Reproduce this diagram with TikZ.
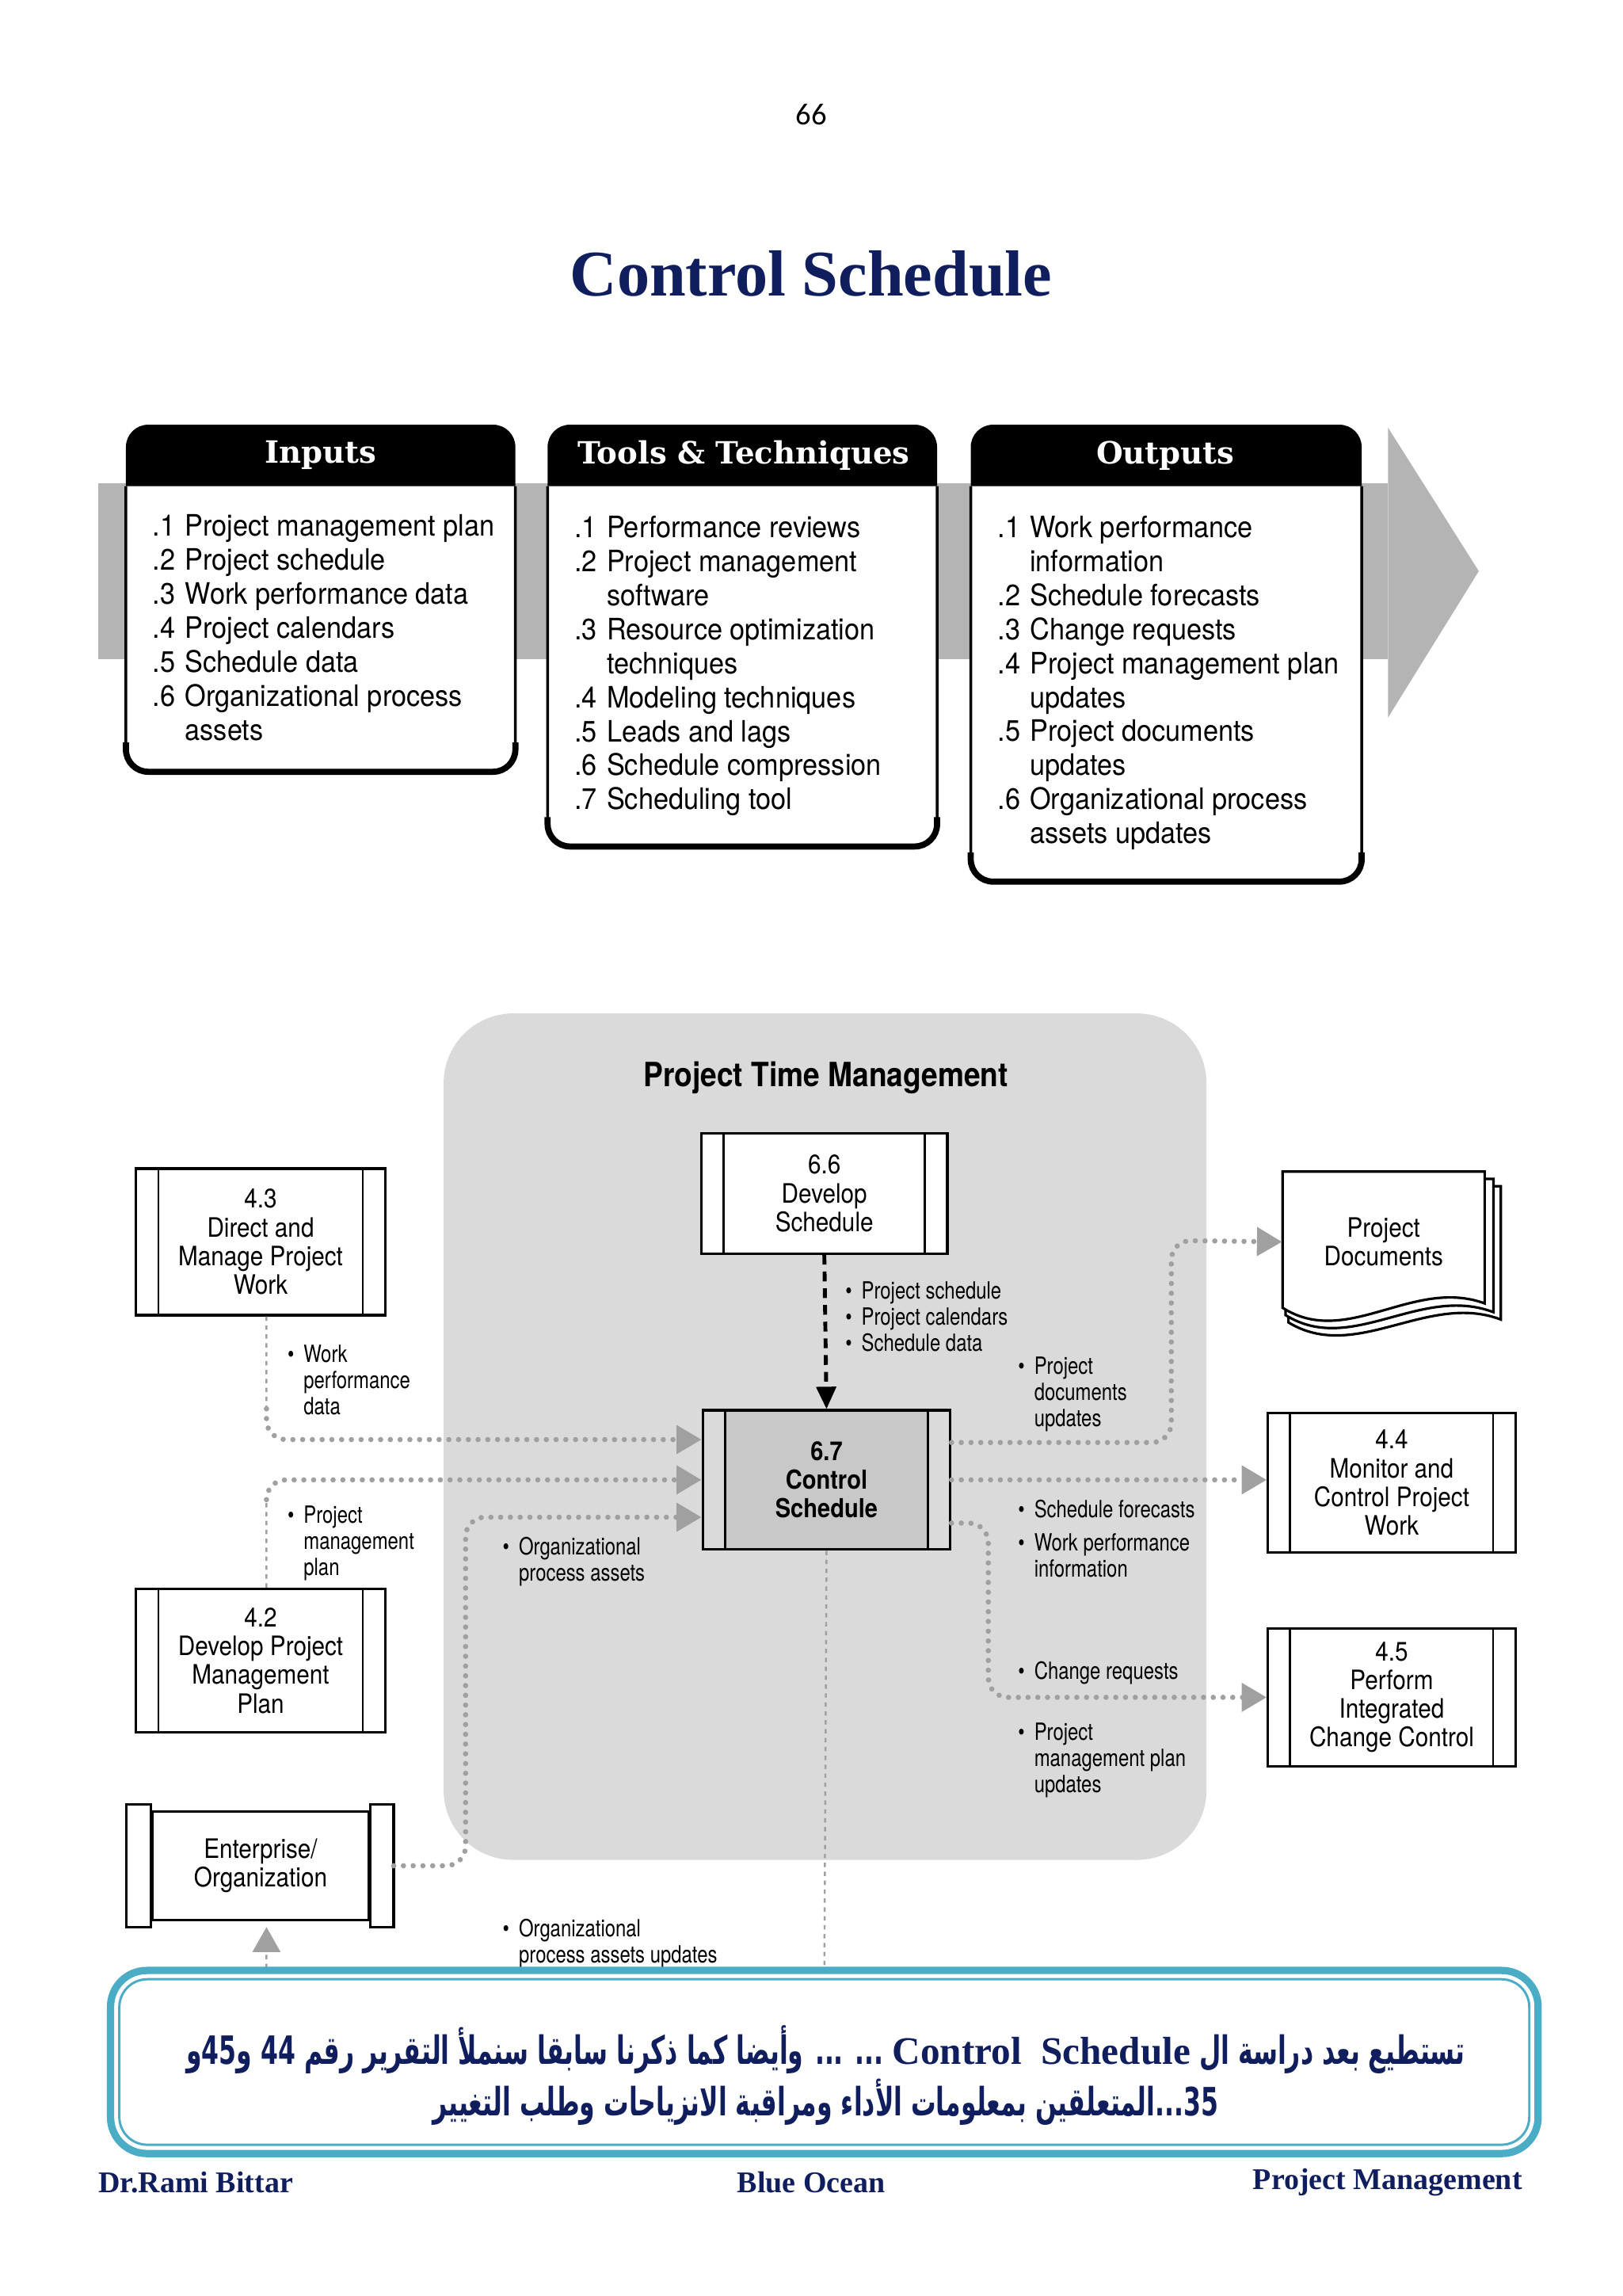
\documentclass[tikz,border=0pt]{standalone}
\usepackage{fontspec}
\usetikzlibrary{arrows.meta,calc}
\TeXXeTstate=1
\setmainfont{TeX Gyre Heros}
\newfontfamily\hvt[FakeStretch=0.92]{TeX Gyre Heros}
\newfontfamily\hvc[FakeStretch=0.88]{TeX Gyre Heros}
\newfontfamily\hvl[FakeStretch=0.80]{TeX Gyre Heros}
\newfontfamily\tms{Liberation Serif}
\newfontfamily\slab{DejaVu Serif}
\newfontfamily\calib{Carlito}
\newfontfamily\arabicfont[Script=Arabic,FakeStretch=0.64]{DejaVu Sans}
\def\dU{0.52589pt}
\newcommand{\nm}[1]{\makebox[11.6pt][l]{#1}}
\newcommand{\bu}{\makebox[5.8pt][l]{\textbullet}}
\newcommand{\ind}{\hspace*{5.8pt}}
\definecolor{navy}{RGB}{16,30,94}
\definecolor{band}{RGB}{180,180,180}
\definecolor{region}{RGB}{218,218,218}
\definecolor{boxsix}{RGB}{200,200,200}
\definecolor{dotc}{RGB}{160,160,160}
\definecolor{tealb}{RGB}{75,172,198}
\begin{document}
\begin{tikzpicture}[x=0.0184838cm, y=-0.0184838cm,
  innerlines/.style={path picture={
    \draw[line width=0.8pt] ([xshift=8pt]path picture bounding box.north west) -- ([xshift=8pt]path picture bounding box.south west);
    \draw[line width=0.8pt] ([xshift=-8pt]path picture bounding box.north east) -- ([xshift=-8pt]path picture bounding box.south east);}},
  proc/.style={draw=black, line width=0.9pt, fill=white, align=center, inner sep=0pt,
    minimum width=169*\dU, font=\hvc\fontsize{9.6}{10.3}\selectfont, innerlines},
  hdr/.style={text=white, font=\slab\bfseries\fontsize{11}{13}\selectfont, inner sep=0pt},
  lst/.style={anchor=north west, align=left, inner sep=0pt, font=\hvt\fontsize{10.6}{12.2}\selectfont},
  lbl/.style={anchor=north west, align=left, inner sep=0pt, font=\hvl\fontsize{8.5}{9.4}\selectfont},
  dots/.style={draw=dotc, line width=1.9pt, line cap=round, dash pattern=on 0pt off 3.5pt, rounded corners=7pt},
  thind/.style={draw=dotc, line width=0.7pt, dash pattern=on 1.6pt off 1.6pt},
  garr/.style={-{Triangle[length=9pt,width=10pt,color=dotc]}},
  foot/.style={font=\tms\bfseries\fontsize{10.8}{13}\selectfont, text=navy, inner sep=0pt}
]
\useasboundingbox (0,0) rectangle (1108,1567.8);

% page number and title
\node[font=\calib\fontsize{11}{13}\selectfont, inner sep=0pt] (pg) at (554,78) {66};
\node[font=\tms\bfseries\fontsize{23.4}{28}\selectfont, text=navy, inner sep=0pt] (title) at (554,187) {Control Schedule};

% ===== ITTO band =====
\fill[band] (67,330) rectangle (948,450);
\fill[band] (948,292) -- (1010,390) -- (948,490) -- cycle;

\newcommand{\ittobox}[5]{%
  \fill[black, rounded corners=8pt] (#1,#3) rectangle (#2,#4+14);
  \draw[line width=1pt, fill=white, rounded corners=8pt] (#1,#4) -- (#1,#5) -- (#2,#5) -- (#2,#4);
  \draw[line width=2.2pt, rounded corners=8pt] (#1,#5-20) -- (#1,#5) -- (#2,#5) -- (#2,#5-20);
}
\ittobox{86}{352}{290}{332}{527}
\ittobox{374}{640}{290}{332}{578}
\ittobox{663}{930}{290}{332}{602}

\node[hdr] (hin) at (219,311) {Inputs};
\node[hdr] (htt) at (508,311) {Tools \& Techniques};
\node[hdr] (hout) at (796,311) {Outputs};

\node[lst] (lin) at (104,351) {\nm{.1}Project management plan\\\nm{.2}Project schedule\\\nm{.3}Work performance data\\\nm{.4}Project calendars\\\nm{.5}Schedule data\\\nm{.6}Organizational process\\\nm{}assets};
\node[lst] (ltt) at (392,352) {\nm{.1}Performance reviews\\\nm{.2}Project management\\\nm{}software\\\nm{.3}Resource optimization\\\nm{}techniques\\\nm{.4}Modeling techniques\\\nm{.5}Leads and lags\\\nm{.6}Schedule compression\\\nm{.7}Scheduling tool};
\node[lst] (lout) at (681,352) {\nm{.1}Work performance\\\nm{}information\\\nm{.2}Schedule forecasts\\\nm{.3}Change requests\\\nm{.4}Project management plan\\\nm{}updates\\\nm{.5}Project documents\\\nm{}updates\\\nm{.6}Organizational process\\\nm{}assets updates};

% ===== Process diagram =====
\fill[region, rounded corners=25pt] (303,692) rectangle (824,1270);
\node[font=\hvc\bfseries\fontsize{12}{14}\selectfont, inner sep=0pt] (ptm) at (564,736) {Project Time Management};

\node[proc, minimum width=170*\dU, minimum height=100*\dU] (n43) at (178,848) {4.3\\Direct and\\Manage Project\\Work};
\node[proc, minimum width=170*\dU, minimum height=98*\dU] (n42) at (178,1134) {4.2\\Develop Project\\Management\\Plan};
\node[proc, minimum width=168*\dU, minimum height=82*\dU] (n66) at (563,815) {6.6\\Develop\\Schedule};
\node[proc, fill=boxsix, minimum width=169*\dU, minimum height=95*\dU,
  font=\hvc\bfseries\fontsize{9.4}{10.3}\selectfont,
  path picture={
    \fill[region] (path picture bounding box.north west) rectangle ([xshift=8pt]path picture bounding box.south west);
    \fill[region] ([xshift=-8pt]path picture bounding box.north east) rectangle (path picture bounding box.south east);
    \draw[line width=0.8pt] ([xshift=8pt]path picture bounding box.north west) -- ([xshift=8pt]path picture bounding box.south west);
    \draw[line width=0.8pt] ([xshift=-8pt]path picture bounding box.north east) -- ([xshift=-8pt]path picture bounding box.south east);}
  ] (n67) at (564.5,1010.5) {6.7\\Control\\Schedule};
\node[proc, minimum height=95*\dU] (n44) at (950.5,1012.5) {4.4\\Monitor and\\Control Project\\Work};
\node[proc, minimum height=94*\dU] (n45) at (950.5,1159) {4.5\\Perform\\Integrated\\Change Control};

% Enterprise / Organization
\node[draw, line width=0.9pt, fill=white, align=center, inner sep=0pt, minimum width=148*\dU, minimum height=74*\dU,
  font=\hvc\fontsize{9.6}{10.3}\selectfont] (ent) at (178,1274) {Enterprise/\\Organization};
\draw[line width=0.9pt, fill=white] ([xshift=-17*\dU, yshift=4*\dU]ent.north west) rectangle ([yshift=-4*\dU]ent.south west);
\draw[line width=0.9pt, fill=white] ([yshift=4*\dU]ent.north east) rectangle ([xshift=16*\dU, yshift=-4*\dU]ent.south east);

% Project documents (stacked pages)
\draw[line width=0.9pt, fill=white] (882,810) -- (1025,810) -- (1025,901) .. controls (975,882) and (926,931) .. (880,903) -- (880,810);
\draw[line width=0.9pt, fill=white] (880,805) -- (1020,805) -- (1020,896) .. controls (970,877) and (923,926) .. (878,898) -- (878,805);
\draw[line width=0.9pt, fill=white] (876,800) -- (1014,800) -- (1014,890) .. controls (965,872) and (920,921) .. (876,893) -- cycle;
\node[font=\hvc\fontsize{9.6}{10.3}\selectfont, align=center, inner sep=0pt, minimum width=138*\dU, minimum height=90*\dU] (pdoc) at (945,848) {Project\\Documents};

% connectors
\draw[line width=1.4pt, dash pattern=on 3.5pt off 2.5pt, -{Triangle[length=8pt,width=7pt]}] (n66.south) -- (n67.north);

\coordinate (c1) at (182,962);
\draw[thind] ([xshift=4*\dU]n43.south) -- (c1);
\draw[dots, garr] (c1) |- ([yshift=27.5*\dU]n67.west);

\coordinate (c2) at (182,1024);
\draw[thind] ([xshift=4*\dU]n42.north) -- (c2);
\draw[dots, garr] (c2) |- (n67.west);

\draw[dots, garr] ([xshift=16*\dU]ent.east) -- (318,1274) -- (318,1036) -- ([yshift=-25.5*\dU]n67.west);

\coordinate (c4) at (563,1350);
\draw[thind] (n67.south) -- (c4);
\coordinate (c5) at (182,1350);
\draw[thind, garr] (c5) -- ([xshift=4*\dU, yshift=-4*\dU]ent.south);

\draw[dots, garr] ([yshift=25.5*\dU]n67.east) -- (800,985) -- (800,847) -- (pdoc.west);
\draw[dots, garr] (n67.east) -- (n67.east -| n44.west);
\draw[dots, garr] ([yshift=-29.5*\dU]n67.east) -- (675,1040) -- (675,1159) -- (n45.west);

% labels
\node[lbl] (l66) at (577,875) {\bu Project schedule\\\bu Project calendars\\\bu Schedule data};
\node[lbl] (lwpd) at (196,918) {\bu Work\\\ind performance\\\ind data};
\node[lbl] (lpmp) at (196,1028) {\bu Project\\\ind management\\\ind plan};
\node[lbl] (lopa) at (343,1049) {\bu Organizational\\\ind process assets};
\node[lbl] (lpdu) at (695,926) {\bu Project\\\ind documents\\\ind updates};
\node[lbl] (lsf) at (695,1024) {\bu Schedule forecasts};
\node[lbl] (lwpi) at (695,1047) {\bu Work performance\\\ind information};
\node[lbl] (lcr) at (695,1134) {\bu Change requests};
\node[lbl] (lpmu) at (695,1176) {\bu Project\\\ind management plan\\\ind updates};
\node[lbl] (lopu) at (343,1310) {\bu Organizational\\\ind process assets updates};

% ===== blue note box =====
\draw[tealb, line width=5*\dU, fill=white, rounded corners=13pt] (75.5,1345.5) rectangle (1050.5,1470.5);
\draw[tealb, line width=1.6*\dU, rounded corners=10pt] (81.5,1351.5) rectangle (1044.5,1464.5);
\node[font=\arabicfont\bfseries\fontsize{14}{18.4}\selectfont, text=navy, align=center, inner sep=0pt] (ar) at (564,1417)
 {\beginR تستطيع بعد دراسة ال {\tms\bfseries\beginL Control\ \ Schedule\endL} ... ... وأيضا كما ذكرنا سابقا سنملأ التقرير رقم \beginL 44\endL{} و\beginL 45\endL{}و\endR\\
  \beginR\beginL 35\endL{}...المتعلقين بمعلومات الأداء ومراقبة الانزياحات وطلب التغيير\endR};

% footer
\node[foot, anchor=west] (f1) at (67,1490) {Dr.Rami Bittar};
\node[foot] (f2) at (554,1490) {Blue Ocean};
\node[foot, anchor=east] (f3) at (1040,1490) {Project Management};
\end{tikzpicture}
\end{document}
